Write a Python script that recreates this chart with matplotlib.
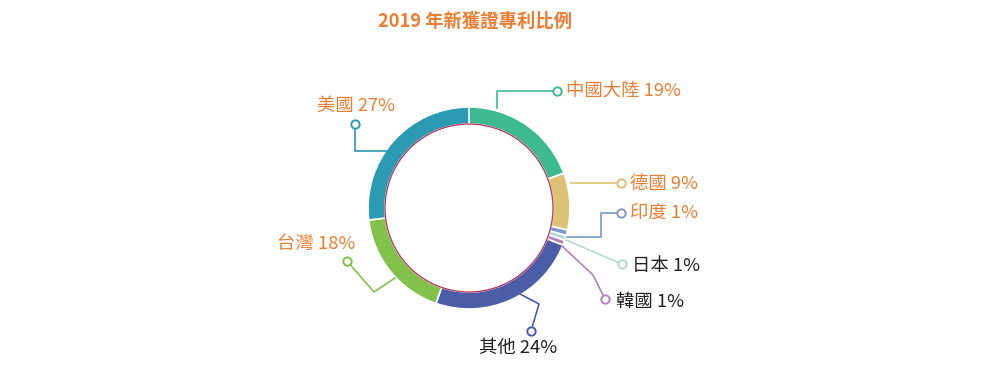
import matplotlib

matplotlib.use('Agg')
import matplotlib.pyplot as plt
from matplotlib.patches import Circle

plt.rcParams['font.family'] = ['Noto Sans CJK TC', 'DejaVu Sans']

# share of new patents granted in 2019, clockwise from 12 o'clock
countries = ['中國大陸', '德國', '印度', '日本', '韓國', '其他', '台灣', '美國']
shares = [19.4, 9.1, 0.9, 0.8, 0.8, 24.3, 17.8, 26.9]
colors = ['#3dba92', '#dbc275', '#7d97cc', '#b2dcd3', '#b97fbf',
          '#4c5da8', '#82c24b', '#2b9bb3']
label_colors = ['#ee7d31', '#ee7d31', '#ee7d31', '#222222', '#222222',
                '#222222', '#ee7d31', '#ee7d31']

W, H = 1000, 365
CX, CY = 469, 208
R_OUT, R_IN = 101, 84

# leader paths in pixel coords (x right, y down), label anchor + alignment
leaders = [
    ([(497, 108), (497, 91), (557, 91)], (566, 92), 'left'),
    ([(571, 183), (621, 183)], (630, 184), 'left'),
    ([(567, 237), (601, 237), (601, 213), (621, 213)], (630, 213), 'left'),
    ([(566, 240), (622, 264)], (632, 266), 'left'),
    ([(562, 246), (593, 275), (605, 299)], (616, 302), 'left'),
    ([(520, 294), (539, 304), (531, 331)], (518, 348), 'center'),
    ([(395, 278), (374, 292), (347, 261)], (355, 244), 'right'),
    ([(387, 151), (355, 151), (355, 124)], (356, 106), 'center'),
]


def px(x, y):
    return x, H - y


fig = plt.figure(figsize=(W / 100, H / 100), dpi=100)
ax = fig.add_axes([0, 0, 1, 1])

ax.pie(
    shares,
    colors=colors,
    startangle=90,
    counterclock=False,
    radius=R_OUT,
    center=px(CX, CY),
    wedgeprops=dict(width=R_OUT - R_IN, edgecolor='white', linewidth=1.2),
)
ax.add_patch(Circle(px(CX, CY), R_IN, facecolor='none',
                    edgecolor='#b5305a', linewidth=0.9, zorder=3))

for name, share, col, tcol, (path, tpos, ha) in zip(
        countries, shares, colors, label_colors, leaders):
    xs, ys = zip(*[px(x, y) for x, y in path])
    ax.plot(xs, ys, color=col, linewidth=1.2, zorder=4)
    ax.plot(xs[-1], ys[-1], 'o', markersize=6, markerfacecolor='white',
            markeredgecolor=col, markeredgewidth=1.4, zorder=5)
    ax.text(*px(*tpos), '{} {:.0f}%'.format(name, share), color=tcol,
            fontsize=13.2, ha=ha, va='center')

ax.text(*px(475, 21), '2019 年新獲證專利比例', color='#ee7d31',
        fontsize=13.2, fontweight='bold', ha='center', va='center')

ax.set_xlim(0, W)
ax.set_ylim(0, H)
ax.set_aspect('equal')
ax.axis('off')

fig.savefig('out.png', dpi=100, facecolor='w')
plt.close(fig)
